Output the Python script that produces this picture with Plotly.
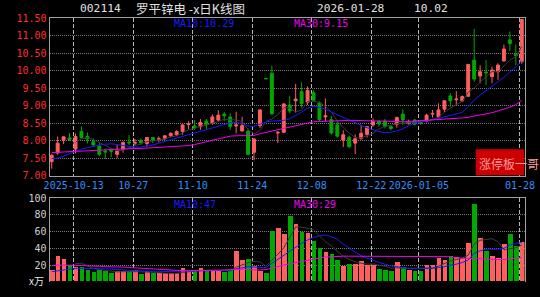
import plotly.graph_objects as go
import pandas as pd

W, H = 540, 297

# ---------------- data ----------------
opens = [7.40, 7.65, 8.02, 8.08, 7.76, 8.26, 8.12, 7.97, 7.84, 7.70,
         7.72, 7.61, 7.76, 7.96, 7.93, 8.00, 7.92, 8.09, 8.04, 8.05,
         8.14, 8.17, 8.26, 8.46, 8.42, 8.40, 8.56, 8.50, 8.59, 8.76,
         8.68, 8.42, 8.28, 8.27, 7.67, 8.43, 9.78, 9.93, 8.22, 8.24,
         9.02, 9.14, 9.40, 9.10, 9.37, 9.08, 8.68, 8.60, 8.45, 8.02,
         8.10, 7.93, 8.07, 8.18, 8.45, 8.55, 8.56, 8.40, 8.47, 8.76,
         8.50, 8.59, 8.53, 8.56, 8.76, 8.68, 8.90, 9.28, 9.17, 9.14,
         9.27, 10.30, 9.85, 9.96, 9.83, 9.97, 10.28, 10.88, 10.47, 10.26]
highs = [7.62, 8.12, 8.12, 8.22, 8.21, 8.41, 8.24, 8.07, 7.93, 7.78,
         7.78, 7.88, 7.97, 8.16, 8.05, 8.07, 8.10, 8.10, 8.12, 8.16,
         8.24, 8.30, 8.47, 8.56, 8.59, 8.62, 8.62, 8.75, 8.87, 8.81,
         8.78, 8.83, 8.68, 8.35, 8.06, 8.89, 9.78, 10.14, 8.27, 9.07,
         9.29, 9.62, 9.67, 9.55, 9.44, 9.12, 9.21, 8.71, 8.56, 8.30,
         8.14, 8.18, 8.45, 8.41, 8.64, 8.60, 8.62, 8.45, 8.69, 8.90,
         8.60, 8.62, 8.56, 8.77, 8.88, 9.07, 9.16, 9.36, 9.42, 9.29,
         10.19, 11.20, 10.16, 10.30, 10.11, 10.21, 10.75, 11.12, 10.75, 11.47]
lows = [7.20, 7.60, 7.90, 7.99, 7.64, 8.05, 7.92, 7.83, 7.56, 7.48,
        7.53, 7.50, 7.66, 7.88, 7.86, 7.88, 7.83, 7.93, 7.95, 8.03,
        8.10, 8.14, 8.17, 8.33, 8.31, 8.31, 8.31, 8.45, 8.54, 8.56,
        8.31, 8.21, 8.26, 7.58, 7.44, 8.36, 9.77, 8.74, 7.93, 8.22,
        8.78, 8.80, 8.94, 9.02, 9.12, 8.55, 8.55, 8.17, 8.08, 7.82,
        7.78, 7.62, 8.02, 8.09, 8.40, 8.40, 8.35, 8.29, 8.37, 8.45,
        8.46, 8.44, 8.46, 8.52, 8.66, 8.66, 8.82, 8.97, 9.00, 9.10,
        9.25, 9.68, 9.64, 9.59, 9.64, 9.74, 10.26, 10.56, 10.16, 10.20]
closes = [7.58, 7.93, 8.11, 8.03, 8.12, 8.09, 8.05, 7.88, 7.61, 7.68,
          7.70, 7.71, 7.95, 7.94, 7.95, 7.94, 8.09, 8.02, 8.06, 8.14,
          8.21, 8.26, 8.45, 8.48, 8.36, 8.52, 8.45, 8.68, 8.73, 8.71,
          8.41, 8.45, 8.43, 7.61, 8.05, 8.88, 9.77, 8.77, 8.24, 9.05,
          8.85, 9.19, 9.06, 9.44, 9.14, 8.60, 8.71, 8.22, 8.13, 8.17,
          7.83, 8.06, 8.21, 8.40, 8.54, 8.48, 8.41, 8.35, 8.66, 8.59,
          8.55, 8.47, 8.50, 8.73, 8.78, 8.88, 9.14, 9.14, 9.19, 9.26,
          10.18, 9.76, 9.97, 9.94, 10.02, 10.16, 10.62, 10.78, 10.43, 11.47]
volumes = [14, 30, 27, 20, 17, 17, 14, 11, 14, 12,
           10, 12, 12, 12, 14, 9, 12, 10, 10, 10,
           10, 10, 16, 12, 12, 16, 13, 13, 13, 11,
           14, 36, 26, 27, 18, 12, 10, 60, 64, 57,
           78, 69, 59, 58, 48, 40, 35, 33, 26, 19,
           21, 21, 24, 20, 20, 15, 14, 12, 23, 17,
           14, 12, 13, 20, 20, 28, 26, 30, 29, 28,
           46, 93, 52, 36, 31, 28, 45, 57, 43, 47]
ma10_price = [7.49, 7.50, 7.56, 7.63, 7.70, 7.76, 7.80, 7.85, 7.88, 7.90,
              7.91, 7.89, 7.86, 7.83, 7.81, 7.82, 7.84, 7.88, 7.93, 7.98,
              8.03, 8.08, 8.13, 8.17, 8.21, 8.26, 8.31, 8.36, 8.41, 8.47,
              8.51, 8.52, 8.49, 8.42, 8.41, 8.47, 8.54, 8.56, 8.57, 8.58,
              8.63, 8.72, 8.82, 8.93, 8.98, 8.95, 8.90, 8.82, 8.74, 8.67,
              8.60, 8.52, 8.44, 8.37, 8.31, 8.26, 8.23, 8.24, 8.28, 8.34,
              8.43, 8.50, 8.53, 8.56, 8.59, 8.63, 8.68, 8.73, 8.77, 8.81,
              8.98, 9.16, 9.30, 9.43, 9.55, 9.67, 9.81, 9.97, 10.10, 10.29]
ma30_price = [7.66, 7.67, 7.68, 7.69, 7.70, 7.71, 7.72, 7.73, 7.74, 7.75,
              7.76, 7.77, 7.77, 7.78, 7.78, 7.78, 7.79, 7.79, 7.80, 7.80,
              7.81, 7.82, 7.84, 7.86, 7.89, 7.93, 7.97, 8.02, 8.07, 8.11,
              8.13, 8.14, 8.14, 8.14, 8.15, 8.20, 8.24, 8.27, 8.30, 8.34,
              8.39, 8.44, 8.48, 8.51, 8.54, 8.55, 8.56, 8.57, 8.58, 8.58,
              8.58, 8.58, 8.57, 8.57, 8.57, 8.56, 8.56, 8.55, 8.55, 8.54,
              8.55, 8.56, 8.56, 8.57, 8.58, 8.59, 8.60, 8.62, 8.63, 8.65,
              8.67, 8.70, 8.73, 8.76, 8.80, 8.85, 8.90, 8.96, 9.03, 9.15]
ma10_vol = [12, 13, 14, 15, 16, 16, 16, 16, 16, 15.5,
            15, 14.5, 14, 13.5, 13, 13, 12.5, 12, 12, 12,
            12, 12.5, 12.8, 13, 13, 13, 13, 13.2, 13.2, 13.5,
            14, 15.5, 17, 18, 17.5, 17, 17, 22, 27, 31,
            37, 42, 46, 50, 53, 55, 56, 54, 51, 45,
            40, 35, 31, 28, 26, 23, 21, 19, 18, 17,
            16, 16, 16, 16, 16.5, 17, 18, 20, 21, 23,
            26, 34, 37, 39, 39, 39, 40, 44, 46, 47]
ma30_vol = [19, 20, 20, 20, 20, 19.5, 19, 19, 18.5, 18,
            18, 17.5, 17.5, 17, 16.5, 16, 16, 15.5, 15, 14.5,
            14, 13.5, 13.2, 13.2, 13.2, 13.2, 13.2, 13.2, 13.5, 14,
            14.5, 15, 15, 14.5, 14, 14, 14.5, 16, 18, 20,
            21.5, 23, 24.5, 26, 27.5, 28.5, 29.5, 30, 30.5, 30.6,
            30.6, 30.6, 30.6, 30.6, 30.6, 30.6, 30.6, 30.6, 30.6, 30.6,
            30.6, 30.5, 29.8, 29.8, 29.8, 30, 30.2, 30, 28.5, 28,
            27.8, 27.8, 27.5, 27, 26.8, 26.6, 26.6, 27, 28, 29]
tick_index = [4, 14, 24, 34, 44, 54, 62, 79]
tick_labels = ["2025-10-13", "10-27", "11-10", "11-24", "12-08", "12-22",
               "2026-01-05", "01-28"]
price_ticks = [7.0, 7.5, 8.0, 8.5, 9.0, 9.5, 10.0, 10.5, 11.0, 11.5]
vol_ticks = [20, 40, 60, 80, 100]

x = list(range(len(closes)))
ma5_price = pd.Series(closes).rolling(5).mean().tolist()
ma5_vol = pd.Series(volumes).rolling(5).mean().tolist()

RED = "#ff5f5f"
GREEN = "#00a800"
BLUE = "#1a1aff"
MAG = "#ee00ee"
DARK = "#3a3a3a"
AXC = "#a0a0a0"

def px(v):
    return v / W

def py(v):
    return 1 - v / H

fig = go.Figure()

fig.add_trace(go.Candlestick(
    x=x, open=opens, high=highs, low=lows, close=closes,
    increasing=dict(line=dict(color=RED, width=1), fillcolor=RED),
    decreasing=dict(line=dict(color=GREEN, width=1), fillcolor=GREEN),
    whiskerwidth=0, hoverinfo="skip", xaxis="x", yaxis="y"))
fig.add_trace(go.Scatter(x=x, y=ma5_price, mode="lines",
                         line=dict(color=DARK, width=1), xaxis="x", yaxis="y"))
fig.add_trace(go.Scatter(x=x, y=ma10_price, mode="lines",
                         line=dict(color=BLUE, width=1), xaxis="x", yaxis="y"))
fig.add_trace(go.Scatter(x=x, y=ma30_price, mode="lines",
                         line=dict(color=MAG, width=1), xaxis="x", yaxis="y"))

vol_colors = [RED if c > o else GREEN for o, c in zip(opens, closes)]
fig.add_trace(go.Bar(x=x, y=volumes, marker=dict(color=vol_colors, line=dict(width=0)),
                     width=0.78, xaxis="x2", yaxis="y2"))
fig.add_trace(go.Scatter(x=x, y=ma5_vol, mode="lines",
                         line=dict(color=DARK, width=1), xaxis="x2", yaxis="y2"))
fig.add_trace(go.Scatter(x=x, y=ma10_vol, mode="lines",
                         line=dict(color=BLUE, width=1), xaxis="x2", yaxis="y2"))
fig.add_trace(go.Scatter(x=x, y=ma30_vol, mode="lines",
                         line=dict(color=MAG, width=1), xaxis="x2", yaxis="y2"))

mono = "DejaVu Sans Mono"
cjk = "Noto Sans CJK SC"
xdom = [px(49.5), px(524.5)]
xrange_ = [-0.37, 79.46]
tickvals = [i - 0.3 for i in tick_index]

fig.update_layout(
    width=W, height=H, autosize=False, margin=dict(l=0, r=0, t=0, b=0, pad=0),
    paper_bgcolor="black", plot_bgcolor="black", showlegend=False,
    bargap=0,
    xaxis=dict(domain=xdom, range=xrange_, anchor="y", tickvals=tickvals,
               ticktext=tick_labels, tickangle=0, automargin=False,
               tickfont=dict(family=mono, size=10, color="#2f8fff"),
               showgrid=True, gridcolor="#b4b4b4", griddash="4px,2px", gridwidth=1,
               zeroline=False, ticks="", showline=True, linecolor=AXC, mirror=True,
               rangeslider=dict(visible=False), fixedrange=True),
    yaxis=dict(domain=[py(175.7), py(18.2)], range=[7.0, 11.5], anchor="x",
               tickvals=price_ticks, tickformat=".2f", automargin=False,
               tickfont=dict(family=mono, size=10, color="#ff2a2a"),
               showgrid=True, gridcolor="#7a7a7a", griddash="1px,1px", gridwidth=1,
               zeroline=False, ticks="", showline=True, linecolor=AXC, mirror=True,
               fixedrange=True),
    xaxis2=dict(domain=xdom, range=xrange_, anchor="y2", tickvals=tickvals,
                showticklabels=False, showgrid=True, gridcolor="#b4b4b4",
                griddash="4px,2px", gridwidth=1, zeroline=False, ticks="",
                automargin=False,
                showline=True, linecolor=AXC, side="top", fixedrange=True),
    yaxis2=dict(domain=[py(281.7), py(198.3)], range=[0, 100], anchor="x2",
                tickvals=vol_ticks, ticktext=[str(v) for v in vol_ticks],
                automargin=False,
                tickfont=dict(family=mono, size=10, color="#d0d0d0"),
                showgrid=True, gridcolor="#7a7a7a", griddash="1px,1px", gridwidth=1,
                zeroline=False, ticks="", showline=True, linecolor=AXC, mirror=True,
                fixedrange=True),
)

def ann(text, x0, y0, color, size, family=mono, anchor="left"):
    fig.add_annotation(text=text, x=px(x0), y=py(y0), xref="paper", yref="paper",
                       xanchor=anchor, yanchor="middle", showarrow=False,
                       font=dict(family=family, size=size, color=color))

# header
ann("002114", 78, 8.5, "#e0e0e0", 11.3)
ann("罗平锌电 -x日K线图", 134, 8.5, "#e0e0e0", 12.5, family=cjk)
ann("2026-01-28", 315, 8.5, "#e0e0e0", 11.2)
ann("10.02", 412, 8.5, "#e0e0e0", 11.2)
# legends
ann("MA10:" + f"{ma10_price[-1]:.2f}", 171.5, 23.5, BLUE, 10)
ann("MA30:" + f"{ma30_price[-1]:.2f}", 291.5, 23.5, MAG, 10)
ann("MA10:" + f"{ma10_vol[-1]:.0f}", 171.5, 204, BLUE, 10)
ann("MA30:" + f"{ma30_vol[-1]:.0f}", 291.5, 204, MAG, 10)
# volume unit label
ann("x万", 46, 280.5, "#e8e8e8", 10, family=cjk, anchor="right")

# red badge
fig.add_shape(type="rect", xref="paper", yref="paper", x0=px(475.7), x1=px(524.3),
              y0=py(175.2), y1=py(149.3), fillcolor="#cc0000", line=dict(width=0),
              layer="above")
ann("涨停板一哥", 476.5, 163.5, "#ff9a9a", 12, family=cjk)

fig.write_html("out.html")
